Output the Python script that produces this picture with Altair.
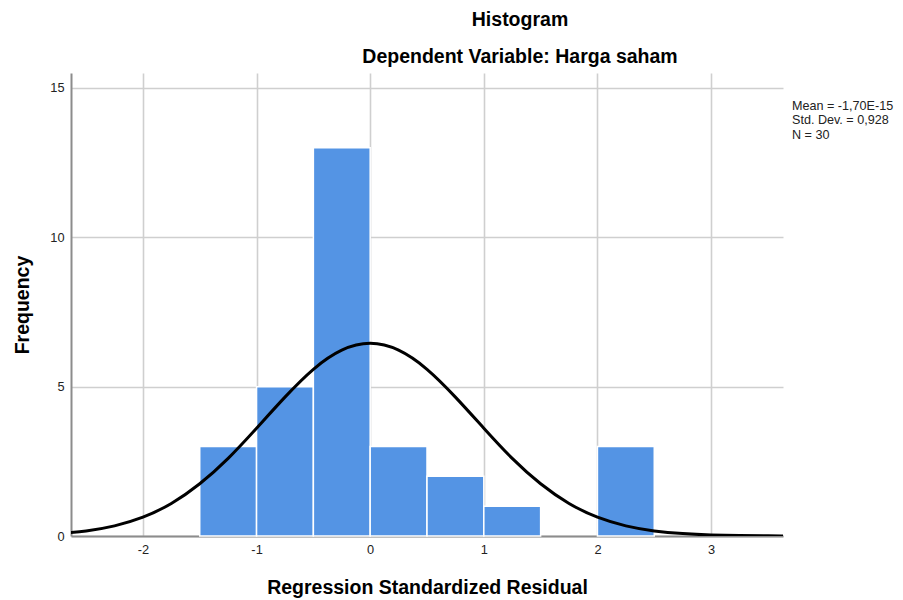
import altair as alt
import pandas as pd

# Histogram bins (Regression Standardized Residual) and frequencies
bin_start = [-1.5, -1.0, -0.5, 0.0, 0.5, 1.0, 2.0]
bin_end = [-1.0, -0.5, 0.0, 0.5, 1.0, 1.5, 2.5]
frequency = [3, 5, 13, 3, 2, 1, 3]

# Normal curve
curve_x = [-2.75, -2.5, -2.25, -2.0, -1.75, -1.5, -1.25, -1.0, -0.75, -0.5, -0.25, 0.0,
           0.25, 0.5, 0.75, 1.0, 1.25, 1.5, 1.75, 2.0, 2.25, 2.5, 2.75, 3.0, 3.25, 3.5, 3.75]
curve_y = [0.08, 0.17, 0.34, 0.63, 1.09, 1.75, 2.60, 3.61, 4.65, 5.58, 6.22, 6.45,
           6.22, 5.58, 4.65, 3.61, 2.60, 1.75, 1.09, 0.63, 0.34, 0.17, 0.08, 0.035, 0.014, 0.005, 0.002]

x_ticks = [-2, -1, 0, 1, 2, 3]
y_ticks = [0, 5, 10, 15]
stats_lines = ["Mean = -1,70E-15", "Std. Dev. = 0,928", "N = 30"]

FONT = "Liberation Sans"
W, H = 712, 463

bars_df = pd.DataFrame({"start": bin_start, "end": bin_end, "freq": frequency})
curve_df = pd.DataFrame({"x": curve_x, "y": curve_y})

x_scale = alt.Scale(domain=[-2.633, 3.633], nice=False, zero=False)
y_scale = alt.Scale(domain=[0, 15.5], nice=False)

x_axis = alt.Axis(
    values=x_ticks, title="Regression Standardized Residual", grid=True,
    labelExpr="'' + datum.value",
    ticks=False, labelPadding=7, labelFontSize=12.8, labelFont=FONT, labelColor="#222",
    titleFont=FONT, titleFontSize=19.5, titleFontWeight="bold", titleColor="black",
    titleX=W / 2, titleY=51, titleBaseline="middle", titleAlign="center",
    domainColor="#8c8c8c", domainWidth=2, gridColor="#cfcfcf", gridWidth=1.6,
)
y_axis = alt.Axis(
    values=y_ticks, title="Frequency", grid=True,
    labelExpr="'' + datum.value",
    ticks=False, labelPadding=7, labelFontSize=12.8, labelFont=FONT, labelColor="#222",
    titleFont=FONT, titleFontSize=19.5, titleFontWeight="bold", titleColor="black",
    titleX=-49, titleY=H / 2, titleBaseline="middle", titleAlign="center", titleAngle=-90,
    domainColor="#8c8c8c", domainWidth=2, gridColor="#cfcfcf", gridWidth=1.6,
)

bars = alt.Chart(bars_df).mark_rect(
    color="#5494E4", stroke="white", strokeWidth=1.5
).encode(
    x=alt.X("start:Q", scale=x_scale, axis=x_axis),
    x2="end:Q",
    y=alt.Y("freq:Q", scale=y_scale, axis=y_axis),
    y2=alt.datum(0),
)

curve = alt.Chart(curve_df).mark_line(
    color="black", strokeWidth=3, interpolate="natural", clip=True
).encode(
    x=alt.X("x:Q", scale=x_scale),
    y=alt.Y("y:Q", scale=y_scale),
)

stats = alt.Chart(pd.DataFrame({"t": [0]})).mark_text(
    text=stats_lines, align="left", baseline="top", font=FONT, fontSize=12.6,
    lineHeight=14.3, color="#222"
).encode(x=alt.value(W + 9), y=alt.value(27))

chart = alt.layer(bars, curve, stats).properties(
    width=W, height=H,
    title=alt.TitleParams(
        text="Histogram", subtitle="Dependent Variable: Harga saham",
        font=FONT, fontSize=19.5, fontWeight="bold", color="black",
        subtitleFont=FONT, subtitleFontSize=19.5, subtitleFontWeight="bold",
        subtitleColor="black", subtitlePadding=17,
        anchor="middle", dx=93, offset=6,
    ),
    autosize=alt.AutoSizeParams(type="none"),
    padding={"left": 63, "top": 65, "right": 112, "bottom": 64},
).configure_view(stroke=None)

chart.save("out.html", embed_options={"renderer": "svg", "actions": False})
